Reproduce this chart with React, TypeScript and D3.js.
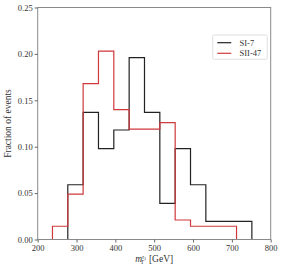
import { useEffect, useRef } from 'react';
import * as d3 from 'd3';

// bin edges of the histogram (GeV)
const binEdges = [238, 277.5, 317, 356.5, 396, 435.5, 475, 514.5, 554, 593.5, 633, 672.5, 712, 751.5];
const si7 = [0, 0.059, 0.137, 0.098, 0.118, 0.196, 0.137, 0.039, 0.098, 0.059, 0.0196, 0.0196, 0.0196];
const sii47 = [0.0143, 0.049, 0.168, 0.203, 0.14, 0.119, 0.119, 0.126, 0.021, 0.0143, 0.0143, 0.0143, 0];
const xTicks = [200, 300, 400, 500, 600, 700, 800];
const yTicks = [0, 0.05, 0.1, 0.15, 0.2, 0.25];

const series = [
  { name: 'SI-7', values: si7, color: '#222222' },
  { name: 'SII-47', values: sii47, color: '#d0393b' },
];

export default function App() {
  const svgRef = useRef<SVGSVGElement>(null);
  const width = 283;
  const height = 271;

  useEffect(() => {
    if (!svgRef.current) return;
    const svg = d3.select(svgRef.current);
    svg.selectAll('*').remove();

    const margin = { top: 7.5, right: 12.3, bottom: 31.5, left: 37.7 };
    const innerWidth = width - margin.left - margin.right;
    const innerHeight = height - margin.top - margin.bottom;
    const font = '"Liberation Serif", "DejaVu Serif", serif';

    const x = d3.scaleLinear().domain([200, 800]).range([0, innerWidth]);
    const y = d3.scaleLinear().domain([0, 0.25]).range([innerHeight, 0]);

    const g = svg.append('g').attr('transform', `translate(${margin.left}, ${margin.top})`);

    // step outlines
    const line = d3.line<[number, number]>()
      .x(d => x(d[0]))
      .y(d => y(d[1]));

    series.forEach(s => {
      const pts: [number, number][] = [[binEdges[0], 0]];
      s.values.forEach((v, i) => {
        pts.push([binEdges[i], v]);
        pts.push([binEdges[i + 1], v]);
      });
      pts.push([binEdges[binEdges.length - 1], 0]);
      g.append('path')
        .attr('d', line(pts))
        .attr('fill', 'none')
        .attr('stroke', s.color)
        .attr('stroke-width', 1.2);
    });

    // frame
    g.append('rect')
      .attr('x', 0)
      .attr('y', 0)
      .attr('width', innerWidth)
      .attr('height', innerHeight)
      .attr('fill', 'none')
      .attr('stroke', '#8a8a8a')
      .attr('stroke-width', 1);

    // axes
    const xAxis = g.append('g')
      .attr('transform', `translate(0, ${innerHeight})`)
      .call(d3.axisBottom(x).tickValues(xTicks).tickSize(3).tickPadding(2).tickFormat(d3.format('d')));
    const yAxis = g.append('g')
      .call(d3.axisLeft(y).tickValues(yTicks).tickSize(3).tickPadding(2).tickFormat(d3.format('.2f')));

    [xAxis, yAxis].forEach(a => {
      a.select('.domain').remove();
      a.selectAll('.tick line').attr('stroke', '#666');
      a.selectAll('.tick text')
        .attr('fill', '#333')
        .style('font-family', font)
        .style('font-size', '8.5px');
    });

    // axis titles
    const xt = svg.append('text')
      .attr('x', margin.left + innerWidth / 2)
      .attr('y', 262)
      .attr('text-anchor', 'middle')
      .attr('fill', '#333')
      .style('font-family', font)
      .style('font-size', '9.5px');
    xt.append('tspan').attr('font-style', 'italic').text('m');
    xt.append('tspan').attr('font-style', 'italic').attr('font-size', '5.5px').attr('dy', -3.5).text('τ');
    xt.append('tspan').attr('font-size', '4.5px').attr('dy', 1).text('1');
    xt.append('tspan').attr('font-style', 'italic').attr('font-size', '5.5px').attr('dx', -5.5).attr('dy', 4.5).text('T');
    xt.append('tspan').attr('dx', 5).attr('dy', -2).text('[GeV]');

    svg.append('text')
      .attr('transform', `translate(11, ${margin.top + innerHeight / 2}) rotate(-90)`)
      .attr('text-anchor', 'middle')
      .attr('fill', '#333')
      .style('font-family', font)
      .style('font-size', '9.5px')
      .text('Fraction of events');

    // legend
    const lg = svg.append('g');
    lg.append('rect')
      .attr('x', 212.7)
      .attr('y', 35)
      .attr('width', 54.6)
      .attr('height', 24.3)
      .attr('rx', 1.5)
      .attr('fill', 'white')
      .attr('stroke', '#d8d8d8')
      .attr('stroke-width', 0.8);
    series.forEach((s, i) => {
      const ly = 42.7 + i * 10.6;
      lg.append('line')
        .attr('x1', 217.3)
        .attr('x2', 231.3)
        .attr('y1', ly)
        .attr('y2', ly)
        .attr('stroke', s.color)
        .attr('stroke-width', 1.2);
      lg.append('text')
        .attr('x', 239.5)
        .attr('y', ly)
        .attr('dy', '0.35em')
        .attr('fill', '#333')
        .style('font-family', font)
        .style('font-size', '8.5px')
        .text(s.name);
    });
  }, []);

  return (
    <div style={{ position: 'fixed', left: 0, top: 0, background: 'white' }}>
      <svg ref={svgRef} width={width} height={height} style={{ display: 'block' }}></svg>
    </div>
  );
}
